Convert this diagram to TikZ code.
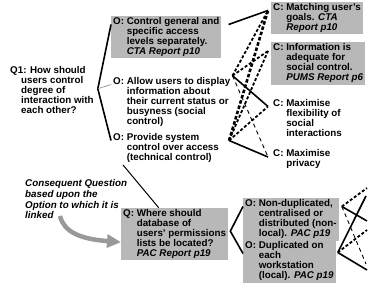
\documentclass[tikz,border=0pt]{standalone}
\usepackage{fontspec}
\setmainfont{Liberation Sans}
\usetikzlibrary{arrows.meta}
\newcommand{\qocfont}{\fontsize{9.8}{9.5}\selectfont\bfseries}
\newcommand{\stk}[1]{\begin{tabular}[t]{@{}l@{}}#1\end{tabular}}
\newcommand{\qoc}[2]{\begin{tabular}[t]{@{}l@{\ }l@{}}#1:&\stk{#2}\end{tabular}}
\newcommand{\rep}[1]{\textit{#1}}
\tikzset{
  qbox/.style={anchor=base west,inner xsep=2pt,inner ysep=1.5pt,font=\qocfont},
  gbox/.style={qbox,fill=black!28},
  solidln/.style={line width=1.6pt},
  dashln/.style={line width=1.8pt,dash pattern=on 3pt off 2pt},
  bolddash/.style={line width=2.6pt,dash pattern=on 3.5pt off 2pt},
  thinln/.style={line width=0.9pt,dash pattern=on 4pt off 3.5pt}
}
\begin{document}
\begin{tikzpicture}[x=1pt,y=-1pt]
\useasboundingbox (0,0) rectangle (384,297);
% question 1 and its options
\node[qbox] (q1) at (8,74) {\begin{tabular}[t]{@{}p{11pt}@{}l@{}}\multicolumn{2}{@{}l@{}}{Q1: How should}\\&users control\\&degree of\\&interaction with\\&each other?\end{tabular}};
\node[gbox] (o1) at (111,24.5) {\qoc{O}{Control general and\\specific access\\levels separately.\\\rep{CTA Report p10}}};
\node[qbox] (o2) at (111,84.5) {\qoc{O}{Allow users to display\\information about\\their current status or\\busyness (social\\control)}};
\node[qbox] (o3) at (111,140.5) {\qoc{O}{Provide system\\control over access\\(technical control)}};
% criteria
\node[gbox] (c1) at (271,10.5) {\qoc{C}{Matching user's\\goals. \rep{CTA}\\\rep{Report p10}}};
\node[gbox] (c2) at (271,51) {\qoc{C}{Information is\\adequate for\\social control.\\\rep{PUMS Report p6}}};
\node[qbox] (c3) at (271,106.5) {\qoc{C}{Maximise\\flexibility of\\social\\interactions}};
\node[qbox] (c4) at (271,157) {\qoc{C}{Maximise\\privacy}};
% consequent question
\node[gbox] (q2) at (121,216.5) {\qoc{Q}{Where should\\database of\\users' permissions\\lists be located?\\\rep{PAC Report p19}}};
\node[gbox] (o4) at (243,206.5) {\qoc{O}{Non-duplicated,\\centralised or\\distributed (non-\\local). \rep{PAC p19}}};
\node[gbox] (o5) at (243,248.5) {\qoc{O}{Duplicated on\\each\\workstation\\(local). \rep{PAC p19}}};
\node[qbox,font=\fontsize{9.8}{10.8}\selectfont\bfseries\itshape] (cq) at (23,186.5) {\stk{Consequent Question\\based upon the\\Option to which it is\\linked}};
% ports
\coordinate (q1v) at ([shift={(2,-3)}]q1.east);
\coordinate (q2v) at ([shift={(2,-3)}]q2.east);
\coordinate (o1p) at ([xshift=7pt]o1.base east);
\coordinate (o2p) at (o2.north east);
\coordinate (o3p) at ([xshift=8pt]o3.base east);
\coordinate (o4p) at ([xshift=3pt]o4.base east);
\coordinate (o5p) at ([shift={(2,4)}]o5.base east);
\foreach \c in {c1,c2,c3,c4}{\coordinate (\c-p) at ([xshift=-3pt]\c.base west);}
% criteria beyond the right edge
\coordinate (xa) at (367,188);
\coordinate (xb) at (366,196);
\coordinate (xc) at (367,221);
\coordinate (xd) at (367,230);
\coordinate (xe) at (366,264);
\coordinate (xf) at (367,270);
\coordinate (cqt) at (60,216);
% brackets
\draw[solidln] (o1.base west) -- (q1v) -- (o3.base west);
\draw[gray,line width=0.6pt] (q1v) -- (o2.base west);
\draw[solidln] (o4.base west) -- (q2v) -- ([shift={(0,5)}]o5.base west);
% assessments
\draw[solidln] (o1p) -- (c1-p);
\draw[dashln] (o2p) -- (c1-p);
\draw[dashln] (o2p) -- (c2-p);
\draw[solidln] (o2p) -- (c3-p);
\draw[thinln] (o2p) -- (c4-p);
\draw[bolddash] (o3p) -- (c1-p);
\draw[dashln] (o3p) -- (c2-p);
\draw[dashln] (o3p) -- (c3-p);
\draw[solidln] (o3p) -- (c4-p);
\draw[dashln] (o4p) -- (xa);
\draw[solidln] (o4p) -- (xc);
\draw[thinln] (o4p) -- (xe);
\draw[solidln] (o5p) -- (xb);
\draw[dashln] (o5p) -- (xd);
\draw[solidln] (o5p) -- (xf);
% link to consequent question
\draw[line width=1pt] ([xshift=12pt]o3.south west) -- ([xshift=-16pt]q2.north);
\draw[black!40,line width=4.5pt,-{Triangle[length=14pt,width=13pt]}] (cqt) .. controls (64,232) and (80,239) .. ([shift={(0,8)}]q2.west);
\end{tikzpicture}
\end{document}
